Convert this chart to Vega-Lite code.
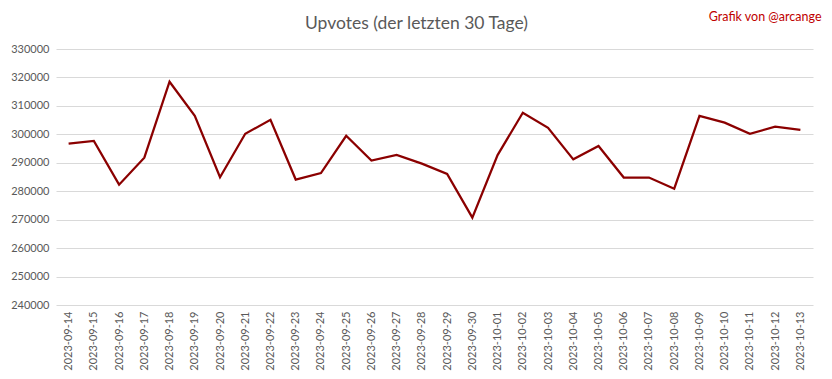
{
  "$schema": "https://vega.github.io/schema/vega-lite/v6.json",
  "width": 757,
  "height": 256,
  "autosize": {"type": "none"},
  "padding": {"left": 56, "top": 49, "right": 19, "bottom": 74},
  "background": "white",
  "title": {
    "text": "Upvotes (der letzten 30 Tage)",
    "font": "Lato",
    "fontSize": 17.5,
    "fontWeight": "normal",
    "color": "#595959",
    "anchor": "middle",
    "frame": "group",
    "dx": -18,
    "offset": -40,
    "baseline": "bottom"
  },
  "data": {
    "values": [
      {"date": "2023-09-14", "upvotes": 296700},
      {"date": "2023-09-15", "upvotes": 297700},
      {"date": "2023-09-16", "upvotes": 282300},
      {"date": "2023-09-17", "upvotes": 291800},
      {"date": "2023-09-18", "upvotes": 318500},
      {"date": "2023-09-19", "upvotes": 306500},
      {"date": "2023-09-20", "upvotes": 284900},
      {"date": "2023-09-21", "upvotes": 300200},
      {"date": "2023-09-22", "upvotes": 305100},
      {"date": "2023-09-23", "upvotes": 284100},
      {"date": "2023-09-24", "upvotes": 286400},
      {"date": "2023-09-25", "upvotes": 299500},
      {"date": "2023-09-26", "upvotes": 290800},
      {"date": "2023-09-27", "upvotes": 292800},
      {"date": "2023-09-28", "upvotes": 289700},
      {"date": "2023-09-29", "upvotes": 286100},
      {"date": "2023-09-30", "upvotes": 270700},
      {"date": "2023-10-01", "upvotes": 292700},
      {"date": "2023-10-02", "upvotes": 307600},
      {"date": "2023-10-03", "upvotes": 302300},
      {"date": "2023-10-04", "upvotes": 291200},
      {"date": "2023-10-05", "upvotes": 295900},
      {"date": "2023-10-06", "upvotes": 284800},
      {"date": "2023-10-07", "upvotes": 284800},
      {"date": "2023-10-08", "upvotes": 280900},
      {"date": "2023-10-09", "upvotes": 306500},
      {"date": "2023-10-10", "upvotes": 304100},
      {"date": "2023-10-11", "upvotes": 300200},
      {"date": "2023-10-12", "upvotes": 302700},
      {"date": "2023-10-13", "upvotes": 301600}
    ]
  },
  "mark": {"type": "line", "color": "#8b0000", "strokeWidth": 2.25, "strokeJoin": "miter"},
  "encoding": {
    "x": {
      "field": "date",
      "type": "ordinal",
      "scale": {"type": "point", "padding": 0.5},
      "axis": {
        "title": null,
        "labelAngle": -90,
        "labelFont": "Lato",
        "labelFontSize": 11,
        "labelColor": "#595959",
        "labelPadding": 6,
        "domain": false,
        "ticks": false,
        "grid": false
      }
    },
    "y": {
      "field": "upvotes",
      "type": "quantitative",
      "scale": {"domain": [240000, 330000], "nice": false, "zero": false},
      "axis": {
        "values": [240000, 250000, 260000, 270000, 280000, 290000, 300000, 310000, 320000, 330000],
        "format": "d",
        "labelFont": "Lato",
        "labelFontSize": 11,
        "labelColor": "#595959",
        "labelPadding": 7,
        "domain": false,
        "ticks": false,
        "grid": true,
        "gridColor": "#d9d9d9",
        "gridWidth": 1,
        "title": "Grafik von @arcange",
        "titleAngle": 0,
        "titleX": 765,
        "titleY": -29,
        "titleAlign": "right",
        "titleBaseline": "alphabetic",
        "titleFont": "Lato",
        "titleFontSize": 12.5,
        "titleFontWeight": "normal",
        "titleColor": "#c00000"
      }
    }
  },
  "config": {"view": {"stroke": null}}
}
